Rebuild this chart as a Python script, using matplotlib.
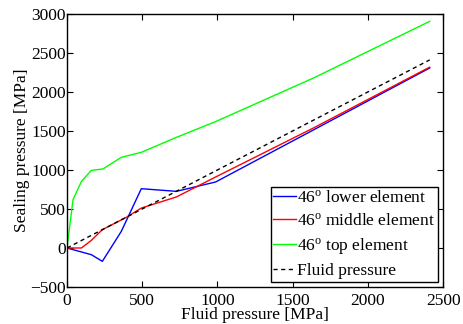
import matplotlib
matplotlib.use("Agg")
import matplotlib.pyplot as plt

plt.rcParams['font.family'] = ['Liberation Serif', 'DejaVu Serif']
plt.rcParams['mathtext.fontset'] = 'custom'
plt.rcParams['mathtext.rm'] = 'Liberation Serif'
plt.rcParams['mathtext.it'] = 'Liberation Serif:italic'

lower_x = [0, 162, 235, 361, 494, 727, 988, 1640, 2411]
lower_y = [0, -86, -171, 213, 760, 726, 846, 1515, 2307]

middle_x = [0, 96, 162, 235, 398, 494, 727, 988, 1640, 2411]
middle_y = [0, 0, 98, 235, 397, 512, 654, 910, 1540, 2318]

top_x = [0, 40, 96, 162, 239, 361, 494, 730, 988, 1640, 2411]
top_y = [0, 619, 854, 995, 1013, 1162, 1226, 1420, 1620, 2180, 2905]

fluid_x = [0, 2411]
fluid_y = [0, 2411]

labels = ['46$^{\\mathrm{o}}$ lower element', '46$^{\\mathrm{o}}$ middle element',
          '46$^{\\mathrm{o}}$ top element', 'Fluid pressure']

fig = plt.figure(figsize=(4.63, 3.24), dpi=100)
ax = fig.add_axes([0.1447, 0.1142, 0.957 - 0.1447, 0.957 - 0.1142])

ax.plot(lower_x, lower_y, color='#0000ff', lw=1.0, label=labels[0])
ax.plot(middle_x, middle_y, color='#ff0000', lw=1.0, label=labels[1])
ax.plot(top_x, top_y, color='#00ff00', lw=1.0, label=labels[2])
ax.plot(fluid_x, fluid_y, color='black', lw=1.0, ls=(0, (3, 2.5)), label=labels[3])

ax.set_xlim(0, 2500)
ax.set_ylim(-500, 3000)
ax.set_xticks(range(0, 2501, 500))
ax.set_yticks(range(-500, 3001, 500))
ax.tick_params(direction='in', top=True, right=True, labelsize=12.5, length=4)
ax.tick_params(axis='x', pad=4)
ax.tick_params(axis='y', pad=1)
for s in ax.spines.values():
    s.set_linewidth(1.0)
ax.set_xlabel('Fluid pressure [MPa]', fontsize=12.5, labelpad=-1)
ax.set_ylabel('Sealing pressure [MPa]', fontsize=12.5, labelpad=0)

leg = ax.legend(loc='lower right', fontsize=12.5, handlelength=1.3, handletextpad=0.1,
                borderaxespad=0.3, borderpad=0.15, labelspacing=0.4, fancybox=False,
                framealpha=1, edgecolor='black')
leg.get_frame().set_linewidth(1.0)

fig.savefig('out.png', dpi=100)
